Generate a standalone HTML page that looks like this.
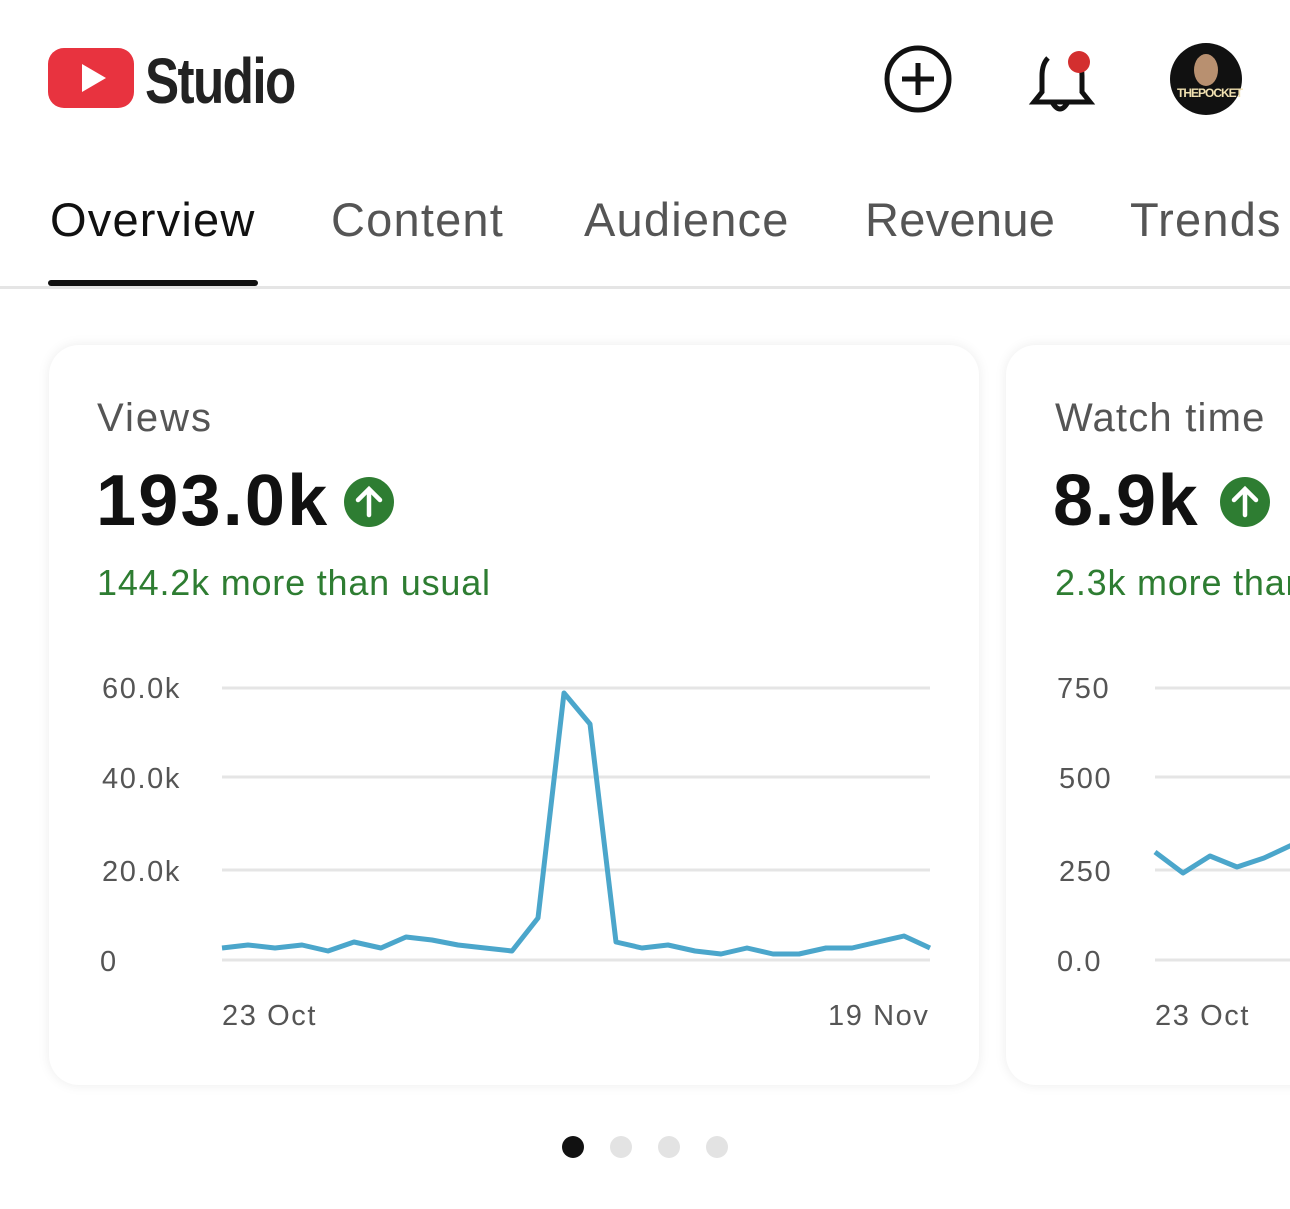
<!DOCTYPE html>
<html><head><meta charset="utf-8"><style>
body{margin:0;width:1290px;height:1209px;background:#fff;font-family:"Liberation Sans",sans-serif;position:relative;overflow:hidden}
.a{position:absolute;white-space:nowrap}
.t{font-size:29px;color:#555;letter-spacing:1.6px}
.card{position:absolute;background:#fff;border-radius:30px;box-shadow:0 0 12px rgba(0,0,0,0.08)}
</style></head><body>
<svg class="a" style="left:0;top:0" width="1290" height="1209">
<rect x="48" y="48" width="86" height="60" rx="16" fill="#e8333f"/>
<polygon points="82,64 82,92 106,78" fill="#fff"/>
<circle cx="918" cy="79" r="31" fill="none" stroke="#111" stroke-width="5"/>
<path d="M918,63v32M902,79h32" stroke="#111" stroke-width="5"/>
<path d="M1048,58q-6,6,-6,18v16l-8,10h56l-8,-10v-16q0,-14,-10,-20M1052,102q8,14,16,0" fill="none" stroke="#111" stroke-width="5"/>
<circle cx="1079" cy="62" r="11" fill="#d32f2f"/>
<circle cx="1206" cy="79" r="36" fill="#111"/>
<ellipse cx="1206" cy="70" rx="12" ry="16" fill="#b89070"/>
<rect x="0" y="286" width="1290" height="3" fill="#e5e5e5"/>
<rect x="48" y="280" width="210" height="6" rx="3" fill="#111"/>
</svg>
<div class="a" style="left:145px;top:44px;font-size:64px;font-weight:bold;color:#222;letter-spacing:-2px;transform:scaleX(0.8);transform-origin:left">Studio</div>
<div class="a" style="left:1177px;top:86px;font-size:12px;font-weight:bold;color:#f0e0b0;letter-spacing:-1px">THEPOCKET</div>
<div class="a" style="left:50px;top:192px;font-size:47px;color:#111;letter-spacing:1.2px">Overview</div>
<div class="a" style="left:331px;top:192px;font-size:47px;color:#555;letter-spacing:1.2px">Content</div>
<div class="a" style="left:584px;top:192px;font-size:47px;color:#555;letter-spacing:1.2px">Audience</div>
<div class="a" style="left:865px;top:192px;font-size:47px;color:#555;letter-spacing:0.3px">Revenue</div>
<div class="a" style="left:1130px;top:192px;font-size:47px;color:#555;letter-spacing:1.2px">Trends</div>
<div class="card" style="left:49px;top:345px;width:930px;height:740px"></div>
<div class="card" style="left:1006px;top:345px;width:330px;height:740px"></div>
<div class="a" style="left:97px;top:396px;font-size:40px;color:#555;letter-spacing:2px">Views</div>
<div class="a" style="left:96px;top:460px;font-size:72px;font-weight:bold;color:#111;letter-spacing:2.2px">193.0k</div>
<div class="a" style="left:97px;top:562px;font-size:36px;color:#2e7d32;letter-spacing:0.8px">144.2k more than usual</div>
<div class="a" style="left:1055px;top:396px;font-size:40px;color:#555;letter-spacing:1.2px">Watch time</div>
<div class="a" style="left:1053px;top:460px;font-size:72px;font-weight:bold;color:#111;letter-spacing:1.5px">8.9k</div>
<div class="a" style="left:1055px;top:562px;font-size:36px;color:#2e7d32;letter-spacing:0.8px">2.3k more than</div>
<div class="a t" style="left:102px;top:673px">60.0k</div>
<div class="a t" style="left:102px;top:763px">40.0k</div>
<div class="a t" style="left:102px;top:856px">20.0k</div>
<div class="a t" style="left:100px;top:946px">0</div>
<div class="a t" style="left:222px;top:1000px">23 Oct</div>
<div class="a t" style="left:828px;top:1000px">19 Nov</div>
<div class="a t" style="left:1057px;top:673px">750</div>
<div class="a t" style="left:1059px;top:763px">500</div>
<div class="a t" style="left:1059px;top:856px">250</div>
<div class="a t" style="left:1057px;top:946px">0.0</div>
<div class="a t" style="left:1155px;top:1000px">23 Oct</div>
<svg class="a" style="left:0;top:0" width="1290" height="1209">
<g fill="#2e7d32"><circle cx="369" cy="502" r="25"/><circle cx="1245" cy="502" r="25"/></g>
<g stroke="#fff" stroke-width="4.5" fill="none" stroke-linecap="round"><path d="M369,515v-26M358,500l11,-11l11,11"/><path d="M1245,515v-26M1234,500l11,-11l11,11"/></g>
<g stroke="#e5e5e5" stroke-width="3"><path d="M222,688h708M222,777h708M222,870h708M222,960h708M1155,688h140M1155,777h140M1155,870h140M1155,960h140"/></g>
<polyline fill="none" stroke="#4ba6cb" stroke-width="5" stroke-linejoin="round" points="222,948 248,945 275,948 302,945 328,951 354,942 381,948 406,937 432,940 458,945 485,948 512,951 538,918 564,693 590,724 616,942 642,948 668,945 695,951 721,954 747,948 773,954 799,954 826,948 852,948 878,942 904,936 930,948"/>
<polyline fill="none" stroke="#4ba6cb" stroke-width="5" stroke-linejoin="round" points="1155,852 1183,873 1210,856 1237,867 1264,858 1292,845"/>
<circle cx="573" cy="1147" r="11" fill="#111"/><circle cx="621" cy="1147" r="11" fill="#e3e3e3"/><circle cx="669" cy="1147" r="11" fill="#e3e3e3"/><circle cx="717" cy="1147" r="11" fill="#e3e3e3"/>
</svg>
</body></html>
